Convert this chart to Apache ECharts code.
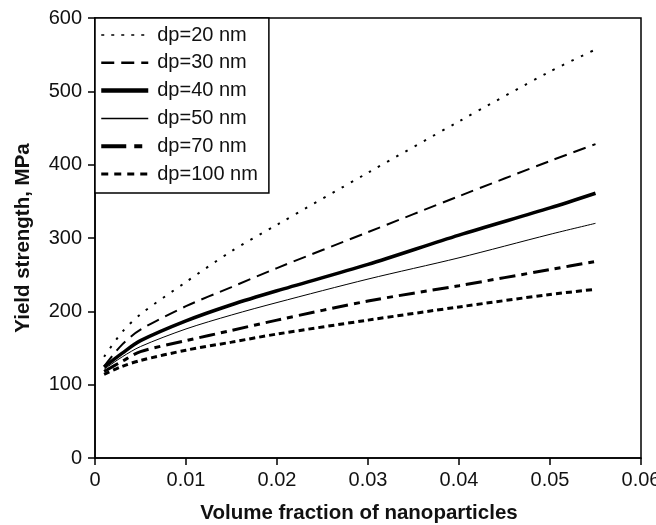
<!DOCTYPE html>
<html>
<head>
<meta charset="utf-8">
<script src="https://cdn.jsdelivr.net/npm/echarts@6/dist/echarts.min.js"></script>
<style>
  html, body { margin: 0; padding: 0; background: #fff; }
  #chart { width: 656px; height: 525px; }
</style>
</head>
<body>
<div id="chart"></div>
<script>
const FONT = "Liberation Sans, Arial, Helvetica, sans-serif";

// volume fraction of nanoparticles
const volFrac = [0.001, 0.003, 0.005, 0.01, 0.015, 0.02, 0.03, 0.04, 0.05, 0.055];

// yield strength (MPa)
const dp20 = [138, 172, 196, 240, 282, 318, 389, 459, 527, 557];
const dp30 = [125, 155, 175, 207, 233, 259, 308, 357, 405, 428];
const dp40 = [124, 143, 160, 187, 209, 228, 264, 304, 341, 361];
const dp50 = [121, 138, 152, 176, 195, 212, 244, 273, 305, 320];
const dp70 = [118, 132, 145, 160, 174, 188, 214, 235, 257, 268];
const dp100 = [114, 125, 133, 147, 158, 169, 188, 206, 223, 230];

const seriesNames = ["dp=20 nm", "dp=30 nm", "dp=40 nm", "dp=50 nm", "dp=70 nm", "dp=100 nm"];
const seriesValues = [dp20, dp30, dp40, dp50, dp70, dp100];
const lineStyles = [
  { width: 2, type: [2.5, 8] },
  { width: 2, type: [13, 7] },
  { width: 3.5, type: "solid" },
  { width: 1, type: "solid" },
  { width: 3, type: [16, 6, 6, 6] },
  { width: 3, type: [6, 4] }
];
// legend samples are drawn a little differently from the curves
const legendStyles = [
  { width: 1.6, type: [3, 7] },
  { width: 2.5, type: [13, 7] },
  { width: 4.5, type: "solid" },
  { width: 1.5, type: "solid" },
  { width: 4, type: [25, 8, 8, 8] },
  { width: 3, type: [7, 6] }
];

const chart = echarts.init(document.getElementById("chart"), null, { renderer: "canvas" });

chart.setOption({
  animation: false,
  backgroundColor: "#fff",
  textStyle: { fontFamily: FONT, color: "#111" },
  grid: {
    left: 95, right: 15, top: 18, bottom: 67,
    outerBoundsMode: "none",
    containLabel: false,
    show: true, borderColor: "#000", borderWidth: 1.5
  },
  legend: {
    left: 95, top: 18,
    orient: "vertical",
    backgroundColor: "#fff",
    borderColor: "#000",
    borderWidth: 1.5,
    borderRadius: 0,
    padding: [7, 11, 9, 4],
    itemWidth: 47,
    itemHeight: 16,
    itemGap: 7.8,
    itemStyle: { opacity: 0 },
    textStyle: { fontFamily: FONT, fontSize: 20, color: "#111", padding: [0, 0, 0, 4] },
    data: seriesNames.map((name, i) => ({
      name: name,
      lineStyle: Object.assign({ color: "#000" }, legendStyles[i])
    }))
  },
  xAxis: {
    type: "value",
    min: 0, max: 0.06, interval: 0.01,
    name: "Volume fraction of nanoparticles",
    nameLocation: "middle",
    nameGap: 45,
    nameTextStyle: { fontFamily: FONT, fontSize: 20.5, fontWeight: "bold", color: "#111", padding: [0, 18, 0, 0] },
    axisLine: { lineStyle: { color: "#000", width: 1.5 } },
    axisTick: { inside: false, length: 7, lineStyle: { color: "#000", width: 1.5 } },
    axisLabel: { fontSize: 20, color: "#111", margin: 12, formatter: v => v === 0 ? "0" : v.toFixed(2) },
    splitLine: { show: false }
  },
  yAxis: {
    type: "value",
    min: 0, max: 600, interval: 100,
    name: "Yield strength, MPa",
    nameLocation: "middle",
    nameGap: 61,
    nameTextStyle: { fontFamily: FONT, fontSize: 20.5, fontWeight: "bold", color: "#111" },
    axisLine: { lineStyle: { color: "#000", width: 1.5 } },
    axisTick: { inside: false, length: 7, lineStyle: { color: "#000", width: 1.5 } },
    axisLabel: { fontSize: 20, color: "#111", margin: 13 },
    splitLine: { show: false }
  },
  series: seriesNames.map((name, i) => ({
    name: name,
    type: "line",
    data: volFrac.map((x, j) => [x, seriesValues[i][j]]),
    symbol: "none",
    smooth: 0.3,
    lineStyle: Object.assign({ color: "#000" }, lineStyles[i]),
    itemStyle: { color: "#000" },
    z: 3
  }))
});
</script>
</body>
</html>
